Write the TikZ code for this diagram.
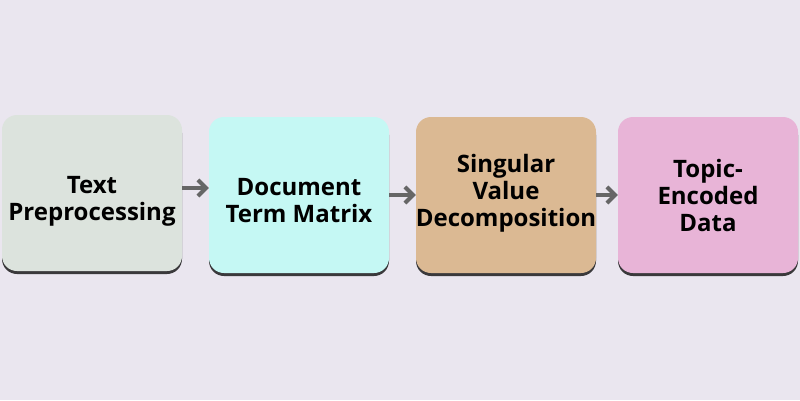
\documentclass[tikz,border=0pt]{standalone}
\usepackage{fontspec}
\setmainfont{Open Sans}
\usetikzlibrary{arrows.meta,shadows}
\definecolor{bgcol}{HTML}{EAE6EF}
\definecolor{prepcol}{HTML}{DCE3DD}
\definecolor{dtmcol}{HTML}{C5F8F4}
\definecolor{svdcol}{HTML}{DBB993}
\definecolor{topiccol}{HTML}{E8B4D7}
\definecolor{arrowcol}{HTML}{666666}
\begin{document}
\begin{tikzpicture}[
			x=1pt, y=-1pt,
			stage/.style={rectangle, rounded corners=15pt, minimum width=180pt,
					minimum height=156pt, inner sep=0pt,
					drop shadow={shadow xshift=0pt, shadow yshift=-3pt, opacity=0.75, fill=black}},
			stagetext/.style={align=center, inner sep=0pt,
					font=\bfseries\fontsize{24}{27}\selectfont},
			flow/.style={draw=arrowcol, line width=4pt, -{Straight Barb[length=8pt,width=16pt]}}
		]
		\fill[bgcol] (0,0) rectangle (800,400);
		\node[stage, fill=prepcol, label={[stagetext, yshift=-8pt]center:{Text\\Preprocessing}}] (prep) at (92,193) {};
		\node[stage, fill=dtmcol, label={[stagetext, yshift=-6pt]center:{Document\\Term Matrix}}] (dtm) at (299,195) {};
		\node[stage, fill=svdcol, label={[stagetext, yshift=2pt]center:{Singular\\Value\\Decomposition}}] (svd) at (506,195) {};
		\node[stage, fill=topiccol, label={[stagetext]center:{Topic-\\Encoded\\Data}}] (topic) at (708,195) {};
		\draw[flow] (prep.east |- 0,188) -- (dtm.west |- 0,188);
		\draw[flow] (dtm) -- (svd);
		\draw[flow] (svd) -- (topic);
	\end{tikzpicture}
\end{document}
